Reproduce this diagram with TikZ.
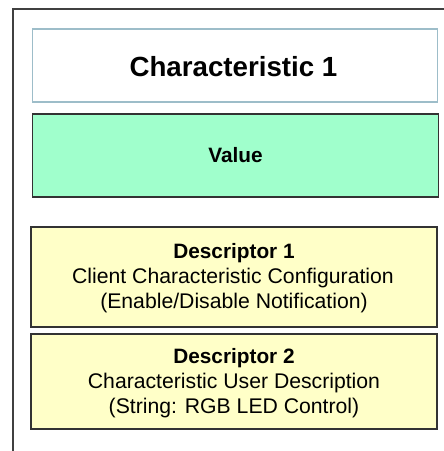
\documentclass[tikz,border=0pt]{standalone}
\usepackage{fontspec}
\setmainfont{Liberation Sans}
\definecolor{framegray}{HTML}{404040}
\definecolor{charstroke}{HTML}{9DBDC9}
\definecolor{valuefill}{HTML}{A0FFCC}
\definecolor{descfill}{HTML}{FFFFC8}
\definecolor{boxstroke}{HTML}{333333}
\tikzset{
  px/.style={x=1pt,y=-1pt},
  boxnode/.style={rectangle, inner sep=0pt, outer sep=0pt},
  charbox/.style={boxnode, draw=charstroke, line width=1.3pt, fill=white},
  valuebox/.style={boxnode, draw=boxstroke, line width=1.1pt, fill=valuefill},
  descbox/.style={boxnode, draw=boxstroke, line width=1.1pt, fill=descfill},
  txt/.style={anchor=base, inner sep=0pt},
  bigtxt/.style={txt, font=\fontsize{27.7}{30}\selectfont\bfseries},
  midtxt/.style={txt, font=\fontsize{20.8}{24}\selectfont\bfseries},
  smalltxt/.style={txt, font=\fontsize{21.2}{24}\selectfont},
}
\begin{document}
\begin{tikzpicture}[px]
\useasboundingbox (0,0) rectangle (444,451);
\fill[white] (0,0) rectangle (444,451);
% outer frame (partially cropped)
\coordinate (fbl) at (13,452);
\coordinate (ftl) at (13,9);
\coordinate (ftr) at (445,9);
\draw[framegray, line width=1.3pt] (fbl) -- (ftl) -- (ftr);
% boxes
\node[charbox, minimum width=405pt, minimum height=73pt] (char) at (235,65.5) {};
\node[valuebox, minimum width=406pt, minimum height=83pt] (value) at (235.5,155.5) {};
\node[descbox, minimum width=406pt, minimum height=100pt] (desc1) at (234,277) {};
\node[descbox, minimum width=406pt, minimum height=95pt] (desc2) at (234,381.5) {};
% texts
\node[bigtxt] (chartxt) at (233.5,76) {Characteristic 1};
\node[midtxt] (valuetxt) at (235.5,162) {Value};
\node[midtxt] (d1a) at (234,258) {Descriptor 1};
\node[smalltxt] (d1b) at (233,283) {Client Characteristic Configuration};
\node[smalltxt] (d1c) at (234,308) {(Enable/Disable Notification)};
\node[midtxt] (d2a) at (234,363) {Descriptor 2};
\node[smalltxt] (d2b) at (234,388) {Characteristic User Description};
\node[smalltxt] (d2c) at (234,413) {(String: RGB LED Control)};
\end{tikzpicture}
\end{document}
